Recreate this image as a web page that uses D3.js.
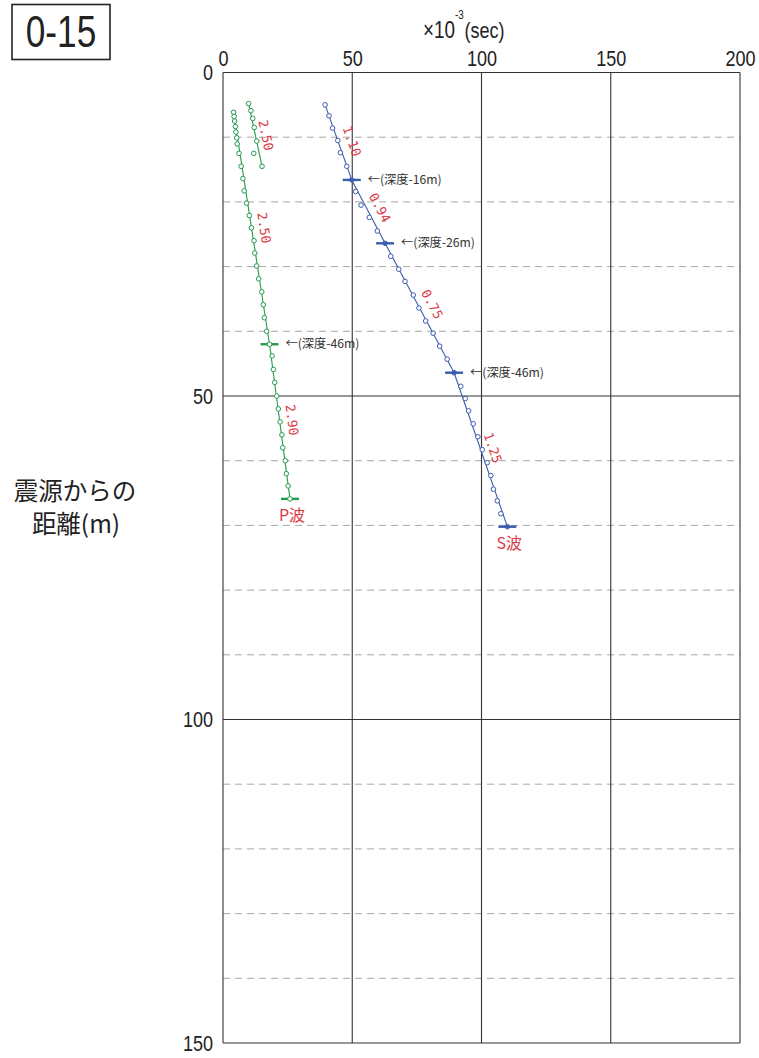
<!DOCTYPE html>
<html><head><meta charset="utf-8">
<script src="https://cdn.jsdelivr.net/npm/d3@7"></script>
<style>
body{margin:0;background:#fff;}
svg{display:block;}
</style></head>
<body>
<script>
// ---- data ----
const xTicks = [0, 50, 100, 150, 200];
const yTicks = [0, 50, 100, 150];
const dashedY = [10, 20, 30, 40, 60, 70, 80, 90, 110, 120, 130, 140];

// P-wave (green) upper short series
const pShortTime = [9.9, 10.8, 11.5, 12.1, 13.1, 11.9, 15.1];
const pShortDist = [4.8, 5.9, 7.1, 8.5, 10.6, 12.5, 14.5];
// P-wave (green) main series
const pTime = [4.1, 4.3, 4.5, 4.8, 5.0, 5.3, 5.5, 6.2, 7.0, 7.7, 8.2, 9.1, 10.2, 11.0, 12.0, 12.3, 13.0, 13.8, 15.0, 15.6, 16.0, 16.9, 18.0, 19.0, 19.5, 20.0, 20.8, 21.4, 22.1, 22.8, 23.1, 24.1, 24.5, 25.2, 25.9];
const pDist = [6.15, 6.8, 7.5, 8.35, 9.2, 10.1, 11.05, 12.5, 14.5, 16.4, 18.3, 20.2, 22.1, 24.0, 26.0, 27.9, 29.9, 31.9, 33.9, 35.9, 37.9, 40.0, 42.0, 43.8, 45.9, 47.9, 50.0, 52.0, 54.0, 56.0, 58.0, 60.0, 62.0, 63.9, 65.9];
// S-wave (blue) series
const sTime = [39.5, 41.0, 42.4, 44.4, 45.4, 47.9, 49.8, 51.3, 53.4, 56.6, 59.7, 62.7, 64.9, 68.0, 70.4, 73.6, 75.8, 78.4, 81.3, 83.8, 86.7, 89.4, 92.0, 93.7, 95.0, 96.8, 98.6, 100.3, 102.2, 103.6, 104.6, 106.1, 107.5, 110.0];
const sDist = [5.0, 6.7, 8.6, 10.5, 12.4, 14.5, 16.6, 18.4, 20.5, 22.4, 24.5, 26.4, 28.4, 30.4, 32.3, 34.4, 36.4, 38.4, 40.3, 42.3, 44.3, 46.4, 48.5, 50.4, 52.3, 54.3, 56.3, 58.3, 60.3, 62.3, 64.4, 66.2, 68.2, 70.2];

// fitted velocity segments: [t0, d0, t1, d1]
const pSegments = [[9.9, 4.8, 15.1, 14.5], [4.1, 6.15, 18.0, 42.0], [18.0, 42.0, 25.9, 65.9]];
const pVelocity = ["2.50", "2.50", "2.90"];
const pVelAt = [[16.6, 9.7], [15.9, 24.0], [26.7, 53.7]];
const sSegments = [[39.5, 5.0, 49.8, 16.6], [49.8, 16.6, 62.7, 26.4], [62.7, 26.4, 89.4, 46.4], [89.4, 46.4, 110.0, 70.2]];
const sVelocity = ["1.10", "0.94", "0.75", "1.25"];
const sVelAt = [[49.9, 10.6], [60.7, 20.9], [80.9, 35.8], [104.4, 58.0]];

// layer-boundary markers
const pMarkTime = [18.0, 25.9];
const pMarkDist = [42.0, 65.9];
const pMarkNote = ["←(深度-46m)", ""];
const sMarkTime = [49.8, 62.7, 89.4, 110.0];
const sMarkDist = [16.6, 26.4, 46.4, 70.2];
const sMarkNote = ["←(深度-16m)", "←(深度-26m)", "←(深度-46m)", ""];

const waveNames = ["P波", "S波"];

// ---- drawing ----
const W = 759, H = 1058;
const GREEN = "#239a4c", BLUE = "#3a5cae", RED = "#dc3a45";
const SANS = "'Liberation Sans',Arial,sans-serif";
const CJK = "'Noto Sans CJK JP','Noto Sans',sans-serif";
const SX = 0.82; // horizontal condensing of the Latin font

const svg = d3.select("body").append("svg").attr("width", W).attr("height", H);

const x = d3.scaleLinear().domain([0, 200]).range([223, 740]);
const y = d3.scaleLinear().domain([0, 150]).range([72.5, 1043]);

// dashed gridlines
svg.append("g").selectAll("line").data(dashedY).join("line")
  .attr("x1", x(0)).attr("x2", x(200))
  .attr("y1", d => y(d)).attr("y2", d => y(d))
  .attr("stroke", "#a8a8a8").attr("stroke-width", 1).attr("stroke-dasharray", "7,5");

// solid gridlines
svg.append("g").selectAll("line").data(xTicks).join("line")
  .attr("x1", d => x(d)).attr("x2", d => x(d))
  .attr("y1", y(0)).attr("y2", y(150))
  .attr("stroke", "#333").attr("stroke-width", 1.1);
svg.append("g").selectAll("line").data(yTicks).join("line")
  .attr("x1", x(0)).attr("x2", x(200))
  .attr("y1", d => y(d)).attr("y2", d => y(d))
  .attr("stroke", "#333").attr("stroke-width", 1.1);

// axes labels
const gx = svg.append("g").attr("transform", `translate(0,${y(0)})`)
  .call(d3.axisTop(x).tickValues(xTicks).tickSize(0).tickPadding(7).tickFormat(d3.format("d")));
gx.select(".domain").remove();
gx.selectAll("text").attr("font-family", SANS).attr("font-size", 22).attr("fill", "#222")
  .attr("transform", `scale(${SX},1)`);

const gy = svg.append("g").attr("transform", `translate(${x(0)},0)`)
  .call(d3.axisLeft(y).tickValues(yTicks).tickSize(0).tickPadding(10).tickFormat(d3.format("d")));
gy.select(".domain").remove();
gy.selectAll("text").attr("font-family", SANS).attr("font-size", 22).attr("fill", "#222")
  .attr("x", -10 / SX).attr("transform", `scale(${SX},1)`);

// x title
const xt = svg.append("text").attr("transform", `translate(423,38) scale(${SX},1)`)
  .attr("font-family", SANS).attr("font-size", 23).attr("fill", "#222");
xt.append("tspan").text("×10");
xt.append("tspan").attr("dy", -19).attr("font-size", 12).text("-3");
xt.append("tspan").attr("dy", 19).attr("dx", 1).attr("font-size", 22).text("(sec)");

// y title
svg.append("text").attr("x", 75).attr("y", 500).attr("text-anchor", "middle")
  .attr("font-family", CJK).attr("font-size", 24.5).attr("fill", "#222").text("震源からの");
svg.append("text").attr("x", 76).attr("y", 533).attr("text-anchor", "middle")
  .attr("font-family", CJK).attr("font-size", 24.5).attr("fill", "#222").text("距離(m)");

// box title
svg.append("rect").attr("x", 12).attr("y", 4.5).attr("width", 98).attr("height", 55)
  .attr("fill", "none").attr("stroke", "#222").attr("stroke-width", 1.6);
svg.append("text").attr("transform", `translate(61,47) scale(0.8,1)`).attr("text-anchor", "middle")
  .attr("font-family", SANS).attr("font-size", 44).attr("fill", "#222").text("0-15");

function drawSeries(times, dists, segs, vels, velAt, mT, mD, mNote, color) {
  const g = svg.append("g");
  g.selectAll("line.seg").data(segs).join("line").attr("class", "seg")
    .attr("x1", d => x(d[0])).attr("y1", d => y(d[1]))
    .attr("x2", d => x(d[2])).attr("y2", d => y(d[3]))
    .attr("stroke", color).attr("stroke-width", 1.1);
  const pts = times.map((t, i) => [t, dists[i]]);
  g.selectAll("circle.pt").data(pts).join("circle").attr("class", "pt")
    .attr("cx", d => x(d[0])).attr("cy", d => y(d[1])).attr("r", 2.3)
    .attr("fill", "white").attr("stroke", color).attr("stroke-width", 1);
  const marks = mT.map((t, i) => [t, mD[i], mNote[i]]);
  g.selectAll("line.mk").data(marks).join("line").attr("class", "mk")
    .attr("x1", d => x(d[0]) - 9).attr("x2", d => x(d[0]) + 9)
    .attr("y1", d => y(d[1])).attr("y2", d => y(d[1]))
    .attr("stroke", color).attr("stroke-width", 2.4);
  g.selectAll("circle.mk").data(marks).join("circle").attr("class", "mk")
    .attr("cx", d => x(d[0])).attr("cy", d => y(d[1])).attr("r", 2)
    .attr("fill", color);
  g.selectAll("text.note").data(marks.filter(d => d[2])).join("text").attr("class", "note")
    .attr("x", d => x(d[0]) + 16).attr("y", d => y(d[1]) + 4)
    .attr("font-family", CJK).attr("font-size", 12.2).attr("fill", "#333").text(d => d[2]);
  // velocity labels rotated along segment
  segs.forEach((s, i) => {
    const ang = Math.atan2(y(s[3]) - y(s[1]), x(s[2]) - x(s[0])) * 180 / Math.PI;
    g.append("text")
      .attr("transform", `translate(${x(velAt[i][0])},${y(velAt[i][1])}) rotate(${ang})`)
      .attr("text-anchor", "middle").attr("dy", "0.35em")
      .attr("font-family", "'DejaVu Sans Mono','Liberation Mono',monospace")
      .attr("font-size", 13).attr("fill", RED).text(vels[i]);
  });
}

drawSeries(pShortTime, pShortDist, pSegments, pVelocity, pVelAt, pMarkTime, pMarkDist, pMarkNote, GREEN);
svg.append("g").selectAll("circle").data(pTime.map((t, i) => [t, pDist[i]])).join("circle")
  .attr("cx", d => x(d[0])).attr("cy", d => y(d[1])).attr("r", 2.3)
  .attr("fill", "white").attr("stroke", GREEN).attr("stroke-width", 1);
drawSeries(sTime, sDist, sSegments, sVelocity, sVelAt, sMarkTime, sMarkDist, sMarkNote, BLUE);

// wave name labels below end markers
const ends = [[pMarkTime[pMarkTime.length - 1], pMarkDist[pMarkDist.length - 1]],
              [sMarkTime[sMarkTime.length - 1], sMarkDist[sMarkDist.length - 1]]];
svg.append("g").selectAll("text").data(waveNames).join("text")
  .attr("x", (d, i) => x(ends[i][0]) + 2).attr("y", (d, i) => y(ends[i][1]) + 22)
  .attr("text-anchor", "middle").attr("font-family", CJK).attr("font-size", 16)
  .attr("fill", RED).text(d => d);
</script>
</body></html>
